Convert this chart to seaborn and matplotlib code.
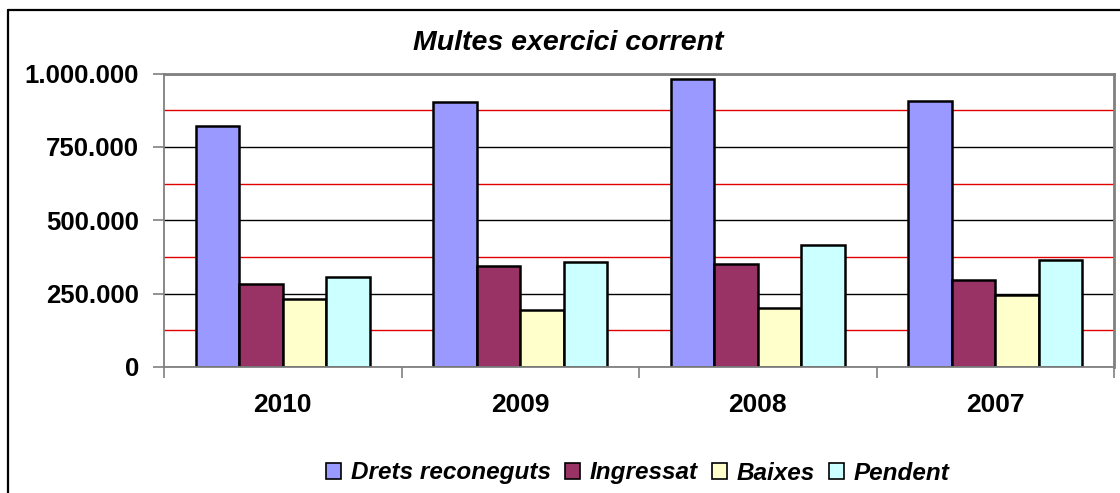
import matplotlib
matplotlib.use("Agg")
import matplotlib.pyplot as plt
from matplotlib.lines import Line2D
from matplotlib.patches import Patch
from matplotlib.ticker import FixedLocator, MultipleLocator, FuncFormatter, NullFormatter
import pandas as pd
import seaborn as sns

# Data
years = ["2010", "2009", "2008", "2007"]
series = ["Drets reconeguts", "Ingressat", "Baixes", "Pendent"]
drets = [822000, 903000, 980000, 905000]
ingressat = [283000, 344000, 352000, 298000]
baixes = [230000, 195000, 202000, 244000]
pendent = [305000, 359000, 415000, 365000]
colors = ["#9999FF", "#993366", "#FFFFCC", "#CCFFFF"]

rows = []
for name, vals in zip(series, [drets, ingressat, baixes, pendent]):
    for y, v in zip(years, vals):
        rows.append({"Any": y, "Concepte": name, "Import": v})
df = pd.DataFrame(rows)

sns.set_theme(style="white")
plt.rcParams["font.family"] = ["Liberation Sans", "DejaVu Sans"]
plt.rcParams["text.color"] = "black"
plt.rcParams["xtick.labelcolor"] = "black"
plt.rcParams["ytick.labelcolor"] = "black"

W, H = 1120, 493
fig = plt.figure(figsize=(W / 100, H / 100), dpi=100)
ax = fig.add_axes([164 / W, 1 - 367 / H, (1114 - 164) / W, (367 - 73.5) / H])

sns.barplot(data=df, x="Any", y="Import", hue="Concepte", order=years,
            hue_order=series, palette=colors, width=0.732, gap=0,
            edgecolor="black", linewidth=1.8, saturation=1, ax=ax,
            legend=False, errorbar=None)

ax.set_xlim(-0.5, 3.5)
ax.set_ylim(0, 1000000)
ax.set_xlabel("")
ax.set_ylabel("")

# y axis: major gridlines black, intermediate ones red
ax.yaxis.set_major_locator(MultipleLocator(250000))
ax.yaxis.set_minor_locator(MultipleLocator(125000))
ax.yaxis.set_major_formatter(FuncFormatter(lambda v, p: f"{int(v):,}".replace(",", ".")))
ax.grid(axis="y", which="major", color="black", linewidth=1.0)
ax.grid(axis="y", which="minor", color="#E00000", linewidth=1.0)
ax.grid(axis="x", visible=False)
ax.set_axisbelow(True)
ax.tick_params(axis="y", which="major", length=8, width=1.2, color="#808080",
               pad=10, labelsize=18.5, direction="out", left=True, labelcolor="black")
ax.tick_params(axis="y", which="minor", length=0)
for lab in ax.get_yticklabels():
    lab.set_fontweight("bold")

# x axis: tick marks between categories, labels at category centres
ax.xaxis.set_major_locator(FixedLocator([-0.5, 0.5, 1.5, 2.5, 3.5]))
ax.xaxis.set_major_formatter(NullFormatter())
ax.xaxis.set_minor_locator(FixedLocator([0, 1, 2, 3]))
ax.set_xticklabels(years, minor=True, fontweight="bold", fontsize=19, color="black")
ax.tick_params(axis="x", which="major", length=8, width=1.2, color="#808080",
               direction="out", bottom=True)
ax.tick_params(axis="x", which="minor", length=0, pad=19, bottom=True)

for side in ["left", "right", "top", "bottom"]:
    ax.spines[side].set_visible(True)
    ax.spines[side].set_color("#808080")
    ax.spines[side].set_linewidth(1.3)
ax.spines["top"].set_linewidth(2.0)
ax.spines["right"].set_linewidth(2.0)

# Title
fig.text(568 / W, 1 - 43 / H, "Multes exercici corrent", ha="center", va="center",
         fontsize=20.5, fontweight="bold", fontstyle="italic", color="black")

# Legend
handles = [Patch(facecolor=c, edgecolor="black", linewidth=1.2) for c in colors]
leg = fig.legend(handles, series, loc="center", bbox_to_anchor=(638 / W, 1 - 473 / H),
                 ncol=4, frameon=False, handlelength=0.6, handleheight=0.6,
                 handletextpad=0.4, columnspacing=0.6,
                 prop={"size": 17.5, "weight": "bold", "style": "italic"})
for t in leg.get_texts():
    t.set_color("black")

# Chart area border
fig.add_artist(Line2D([8 / W, 8 / W], [0, 1 - 10 / H], transform=fig.transFigure,
                      color="black", linewidth=1.6))
fig.add_artist(Line2D([8 / W, 1], [1 - 10 / H, 1 - 10 / H], transform=fig.transFigure,
                      color="black", linewidth=1.6))

fig.savefig("out.png", dpi=100, facecolor="white")
